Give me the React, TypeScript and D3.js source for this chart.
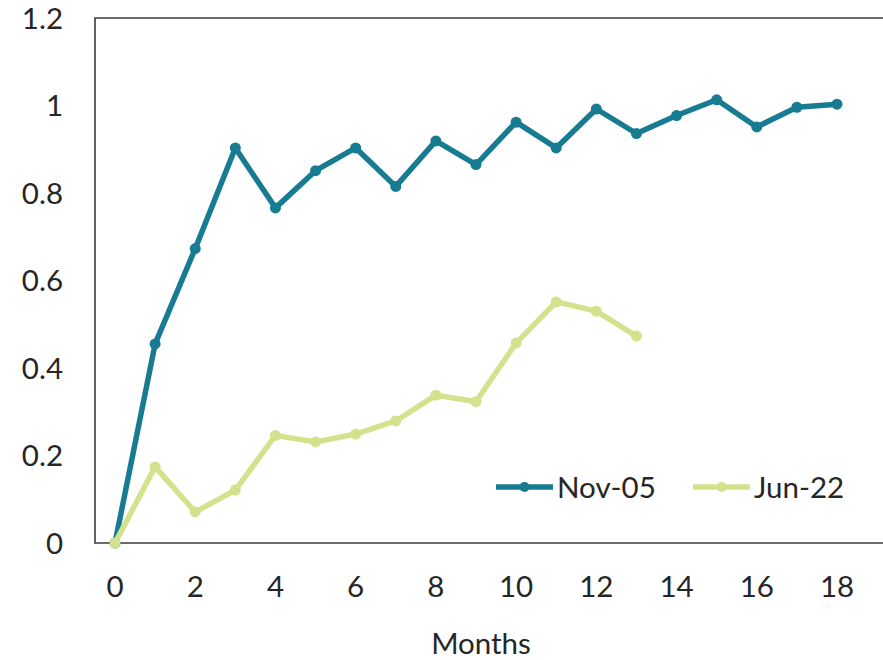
import { useEffect, useRef } from 'react';
import * as d3 from 'd3';

const months = [0, 1, 2, 3, 4, 5, 6, 7, 8, 9, 10, 11, 12, 13, 14, 15, 16, 17, 18];
const nov05 = [0, 0.455, 0.673, 0.903, 0.766, 0.851, 0.903, 0.815, 0.919, 0.865, 0.962, 0.903, 0.992, 0.936, 0.977, 1.013, 0.951, 0.996, 1.003];
const jun22 = [0, 0.174, 0.071, 0.121, 0.246, 0.231, 0.249, 0.279, 0.338, 0.323, 0.457, 0.551, 0.53, 0.473];
const yTicks = [0, 0.2, 0.4, 0.6, 0.8, 1, 1.2];
const xTicks = [0, 2, 4, 6, 8, 10, 12, 14, 16, 18];

const series = [
  { name: 'Nov-05', values: nov05, color: '#177c92' },
  { name: 'Jun-22', values: jun22, color: '#d3e28d' },
];

export default function App() {
  const svgRef = useRef<SVGSVGElement>(null);

  useEffect(() => {
    if (!svgRef.current) return;
    const svg = d3.select(svgRef.current);
    svg.selectAll('*').remove();

    const W = 883, H = 660;
    const left = 95, top = 18, bottom = 543;
    const font = 'Lato, sans-serif';
    const fs = 29.5;

    const x = d3.scaleLinear().domain([0, 18]).range([115, 837]);
    const y = d3.scaleLinear().domain([0, 1.2]).range([bottom, top]);

    svg.attr('width', W).attr('height', H);

    // frame (left, top, bottom)
    svg.append('path')
      .attr('d', `M${W},${top}H${left}V${bottom}H${W}`)
      .attr('fill', 'none')
      .attr('stroke', '#3a3a3a')
      .attr('stroke-width', 1.6);

    // y tick labels
    svg.append('g')
      .selectAll('text')
      .data(yTicks)
      .join('text')
      .attr('x', 63)
      .attr('y', d => y(d))
      .attr('dy', '0.36em')
      .attr('text-anchor', 'end')
      .attr('font-family', font)
      .attr('font-size', fs)
      .attr('fill', '#262626')
      .text(d => d3.format('~g')(d));

    // x tick labels
    svg.append('g')
      .selectAll('text')
      .data(xTicks)
      .join('text')
      .attr('x', d => x(d))
      .attr('y', 597)
      .attr('text-anchor', 'middle')
      .attr('font-family', font)
      .attr('font-size', fs)
      .attr('fill', '#262626')
      .text(d => d);

    svg.append('text')
      .attr('x', 481)
      .attr('y', 654)
      .attr('text-anchor', 'middle')
      .attr('font-family', font)
      .attr('font-size', fs)
      .attr('fill', '#262626')
      .text('Months');

    const line = d3.line<number>()
      .x((_, i) => x(months[i]))
      .y(d => y(d));

    series.forEach(s => {
      const g = svg.append('g');
      g.append('path')
        .datum(s.values)
        .attr('d', line)
        .attr('fill', 'none')
        .attr('stroke', s.color)
        .attr('stroke-width', 5.5)
        .attr('stroke-linejoin', 'round');
      g.selectAll('circle')
        .data(s.values)
        .join('circle')
        .attr('cx', (_, i) => x(months[i]))
        .attr('cy', d => y(d))
        .attr('r', 5.5)
        .attr('fill', s.color);
    });

    // legend
    const legendX = [496, 693];
    series.forEach((s, i) => {
      const lg = svg.append('g').attr('transform', `translate(${legendX[i]},487)`);
      lg.append('line')
        .attr('x1', 0).attr('x2', 57)
        .attr('stroke', s.color)
        .attr('stroke-width', 5.5);
      lg.append('circle').attr('cx', 28.5).attr('r', 5).attr('fill', s.color);
      lg.append('text')
        .attr('x', 61)
        .attr('dy', '0.36em')
        .attr('font-family', font)
        .attr('font-size', fs)
        .attr('fill', '#262626')
        .text(s.name);
    });
  }, []);

  return (
    <svg ref={svgRef} style={{ position: 'absolute', left: 0, top: 0, background: '#fff' }} />
  );
}
